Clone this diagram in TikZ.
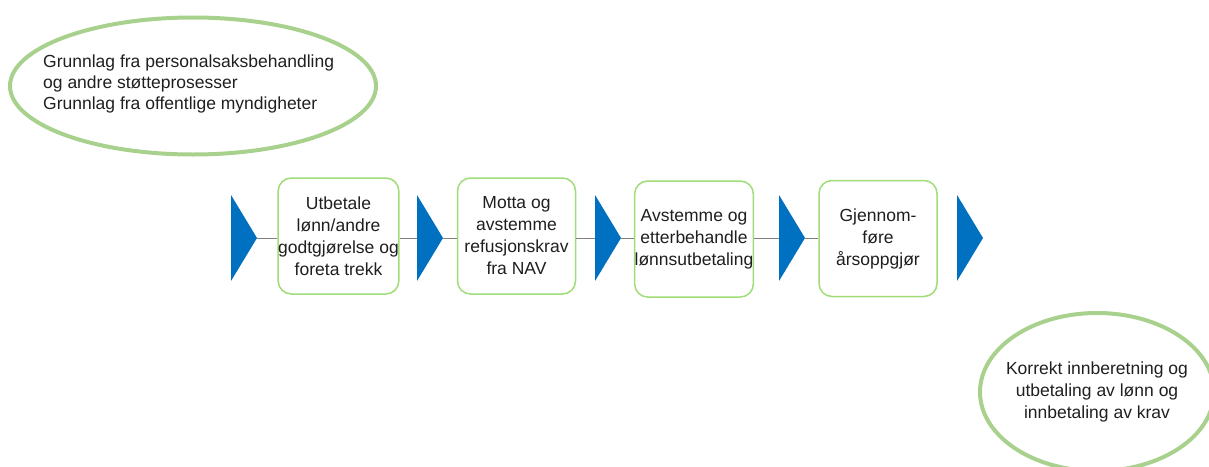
\documentclass[tikz,border=0pt]{standalone}
\usepackage{fontspec}
\setmainfont{Liberation Sans}
\usetikzlibrary{shapes.geometric}
\definecolor{stepgreen}{RGB}{160,220,120}
\definecolor{ovalgreen}{RGB}{169,209,142}
\definecolor{chevblue}{RGB}{0,112,192}
\definecolor{linkgray}{RGB}{128,128,128}
\tikzset{
  txt/.style={font=\fontsize{17.5}{22}\selectfont, text=black!88},
  stepbox/.style={txt, draw=stepgreen, line width=1.5pt, rounded corners=13pt,
    minimum width=118pt, minimum height=116pt, inner sep=0pt, align=center, fill=white},
  oval/.style={ellipse, draw=ovalgreen, line width=4pt, inner sep=0pt},
  chev/.style={fill=chevblue},
  link/.style={draw=linkgray, line width=1pt}
}
\begin{document}
\begin{tikzpicture}[x=1pt,y=-1pt]
\useasboundingbox (0,0) rectangle (1209,466);

% input oval
\node[oval, minimum width=366pt, minimum height=137pt] (inn) at (193,86) {};
\node[txt, align=left, anchor=west, inner sep=0pt, font=\fontsize{17.5}{21}\selectfont] (inntxt) at (43,84)
  {Grunnlag fra personalsaksbehandling\\og andre støtteprosesser\\Grunnlag fra offentlige myndigheter};

% output oval
\node[oval, minimum width=234pt, minimum height=158pt] (ut) at (1097,392) {};
\node[txt, align=center, inner sep=0pt] (uttxt) at (ut.center)
  {Korrekt innberetning og\\utbetaling av lønn og\\innbetaling av krav};

% process steps
\node[stepbox] (b1) at (338.5,236) {Utbetale\\lønn/andre\\godtgjørelse og\\foreta trekk};
\node[stepbox] (b2) at (516.5,236) {Motta og\\avstemme\\refusjonskrav\\fra NAV};
\node[stepbox] (b3) at (694,239) {Avstemme og\\etterbehandle\\lønnsutbetaling};
\node[stepbox] (b4) at (878,238.5) {Gjennom-\\føre\\årsoppgjør};

% chevrons: base midpoint and tip of each
\foreach \i/\x in {1/231,2/417,3/595,4/779,5/957}{
  \coordinate (c\i) at (\x,238);
  \coordinate (t\i) at (\x+26,238);
}

% connectors along the process chain
\draw[link] (t1) -- (t1 -| b1.west);
\draw[link] (c2 -| b1.east) -- (c2);
\draw[link] (t2) -- (t2 -| b2.west);
\draw[link] (c3 -| b2.east) -- (c3);
\draw[link] (t3) -- (t3 -| b3.west);
\draw[link] (c4 -| b3.east) -- (c4);
\draw[link] (t4) -- (t4 -| b4.west);

% chevrons drawn above the connector ends
\foreach \i/\x in {1/231,2/417,3/595,4/779,5/957}{
  \fill[chev] (\x,195) -- (t\i) -- (\x,281) -- cycle;
}
\end{tikzpicture}
\end{document}
